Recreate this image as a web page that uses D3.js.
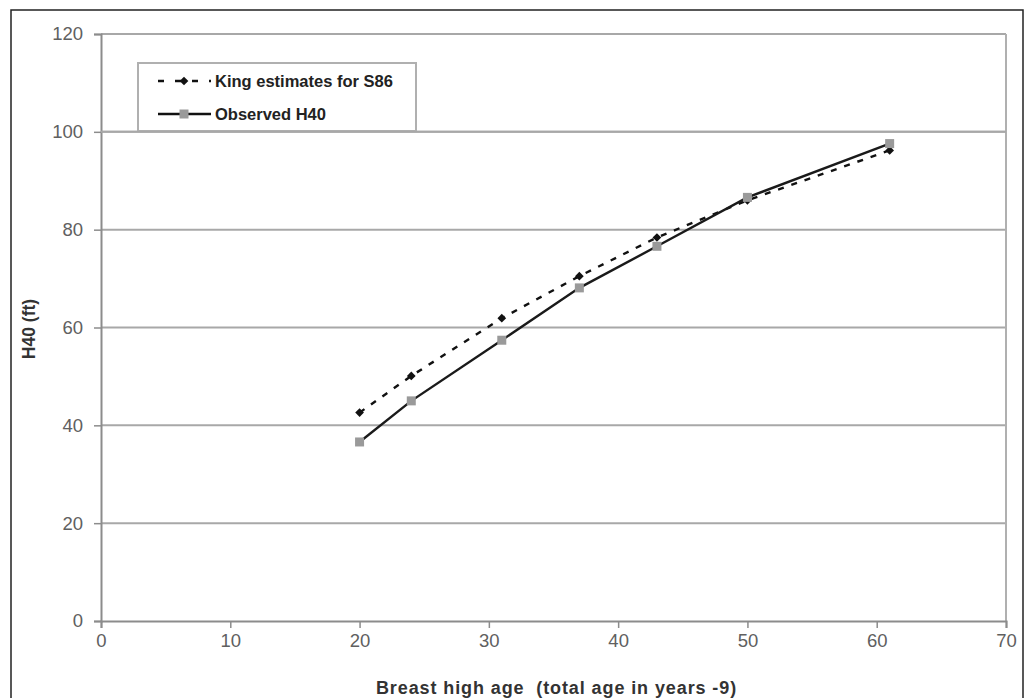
<!DOCTYPE html>
<html>
<head>
<meta charset="utf-8">
<script src="https://cdn.jsdelivr.net/npm/d3@7"></script>
<style>
    body { margin: 0; background: #fff; }
    svg { display: block; font-family: "Liberation Sans", Arial, sans-serif; }
</style>
</head>
<body>
<svg id="chart" width="1026" height="698"></svg>
<script>
// Breast high age (years) at which H40 was measured
var ages = [20, 24, 31, 37, 43, 50, 61];
// King estimates for site index S86
var kingValues = [42.6, 50.1, 61.9, 70.5, 78.4, 86.0, 96.2];
// Observed H40 (ft)
var observedValues = [36.6, 45.0, 57.4, 68.1, 76.6, 86.6, 97.6];

var xTicks = [0, 10, 20, 30, 40, 50, 60, 70];
var yTicks = [0, 20, 40, 60, 80, 100, 120];

var seriesNames = ['King estimates for S86', 'Observed H40'];

var svg = d3.select('#chart');

var plot = { left: 101, right: 1006, top: 34, bottom: 621 };

var x = d3.scaleLinear().domain([0, 70]).range([plot.left, plot.right]);
var y = d3.scaleLinear().domain([0, 120]).range([plot.bottom, plot.top]);

// outer frame (bottom edge is cut off in the original)
svg.append('path')
    .attr('d', 'M11,705 L11,10 L1023,10 L1023,705')
    .attr('fill', 'none')
    .attr('stroke', '#222')
    .attr('stroke-width', 1.5);

// horizontal gridlines
svg.append('g')
    .selectAll('line')
    .data(yTicks.filter(function(d) { return d > 0; }))
    .enter().append('line')
        .attr('x1', plot.left)
        .attr('x2', plot.right)
        .attr('y1', function(d) { return y(d); })
        .attr('y2', function(d) { return y(d); })
        .attr('stroke', '#a8a8a8')
        .attr('stroke-width', 2);

// plot area right border
svg.append('line')
    .attr('x1', plot.right).attr('x2', plot.right)
    .attr('y1', plot.top).attr('y2', plot.bottom)
    .attr('stroke', '#b0b0b0')
    .attr('stroke-width', 2);

var xAxis = svg.append('g')
    .attr('transform', 'translate(0,' + plot.bottom + ')')
    .call(d3.axisBottom(x).tickValues(xTicks).tickSize(7).tickPadding(6));
var yAxis = svg.append('g')
    .attr('transform', 'translate(' + plot.left + ',0)')
    .call(d3.axisLeft(y).tickValues(yTicks).tickSize(7).tickPadding(11));

[xAxis, yAxis].forEach(function(axis) {
    axis.select('.domain').attr('stroke', '#8c8c8c').attr('stroke-width', 2);
    axis.selectAll('.tick line').attr('stroke', '#8c8c8c').attr('stroke-width', 1.5);
    axis.selectAll('.tick text')
        .attr('fill', '#606060')
        .style('font-size', '18.5px')
        .style('font-family', '"Liberation Sans", Arial, sans-serif');
});

// axis titles
svg.append('text')
    .attr('x', (plot.left + plot.right) / 2 + 3)
    .attr('y', 694)
    .attr('text-anchor', 'middle')
    .attr('fill', '#333')
    .style('font-size', '18px')
    .style('font-weight', 'bold')
    .style('letter-spacing', '0.9px')
    .style('white-space', 'pre')
    .text('Breast high age  (total age in years -9)');

svg.append('text')
    .attr('transform', 'translate(35,329) rotate(-90)')
    .attr('text-anchor', 'middle')
    .attr('fill', '#333')
    .style('font-size', '17.5px')
    .style('font-weight', 'bold')
    .text('H40 (ft)');

var kingData = ages.map(function(a, i) { return { x: a, y: kingValues[i] }; });
var observedData = ages.map(function(a, i) { return { x: a, y: observedValues[i] }; });

var line = d3.line()
    .x(function(d) { return x(d.x); })
    .y(function(d) { return y(d.y); });

// King estimates: dashed line with small black diamonds
svg.append('path')
    .datum(kingData)
    .attr('d', line)
    .attr('fill', 'none')
    .attr('stroke', '#111')
    .attr('stroke-width', 2.4)
    .attr('stroke-dasharray', '6,8');

var diamond = d3.symbol().type(d3.symbolSquare).size(38);
svg.append('g')
    .selectAll('path')
    .data(kingData)
    .enter().append('path')
        .attr('d', diamond)
        .attr('transform', function(d) { return 'translate(' + x(d.x) + ',' + y(d.y) + ') rotate(45)'; })
        .attr('fill', '#111');

// Observed: solid line with grey squares
svg.append('path')
    .datum(observedData)
    .attr('d', line)
    .attr('fill', 'none')
    .attr('stroke', '#1a1a1a')
    .attr('stroke-width', 2.4);

svg.append('g')
    .selectAll('rect')
    .data(observedData)
    .enter().append('rect')
        .attr('x', function(d) { return x(d.x) - 4.5; })
        .attr('y', function(d) { return y(d.y) - 4.5; })
        .attr('width', 9)
        .attr('height', 9)
        .attr('fill', '#9a9a9a');

// legend
var legend = svg.append('g');
legend.append('rect')
    .attr('x', 138).attr('y', 63)
    .attr('width', 278).attr('height', 68)
    .attr('fill', '#fff')
    .attr('stroke', '#b0b0b0')
    .attr('stroke-width', 2);

var legendRows = legend.selectAll('.legend-row')
    .data(seriesNames)
    .enter().append('g')
        .attr('class', 'legend-row')
        .attr('transform', function(d, i) { return 'translate(0,' + (81 + i * 33) + ')'; });

legendRows.append('line')
    .attr('x1', 158).attr('x2', 211)
    .attr('stroke', '#111')
    .attr('stroke-width', 2.4)
    .attr('stroke-dasharray', function(d, i) { return i === 0 ? '6,11' : null; });

legendRows.each(function(d, i) {
    var row = d3.select(this);
    if (i === 0) {
        row.append('path').attr('d', diamond).attr('transform', 'translate(184,0) rotate(45)').attr('fill', '#111');
    } else {
        row.append('rect').attr('x', 179.5).attr('y', -4.5).attr('width', 9).attr('height', 9).attr('fill', '#9a9a9a');
    }
});

legendRows.append('text')
    .attr('x', 215)
    .attr('dy', '0.35em')
    .attr('fill', '#222')
    .style('font-size', '16.5px')
    .style('font-weight', 'bold')
    .text(function(d) { return d; });

// gridline at 100 runs over the legend's bottom edge
svg.append('line')
    .attr('x1', plot.left).attr('x2', plot.right)
    .attr('y1', y(100)).attr('y2', y(100))
    .attr('stroke', '#a8a8a8')
    .attr('stroke-width', 2);
</script>
</body>
</html>
